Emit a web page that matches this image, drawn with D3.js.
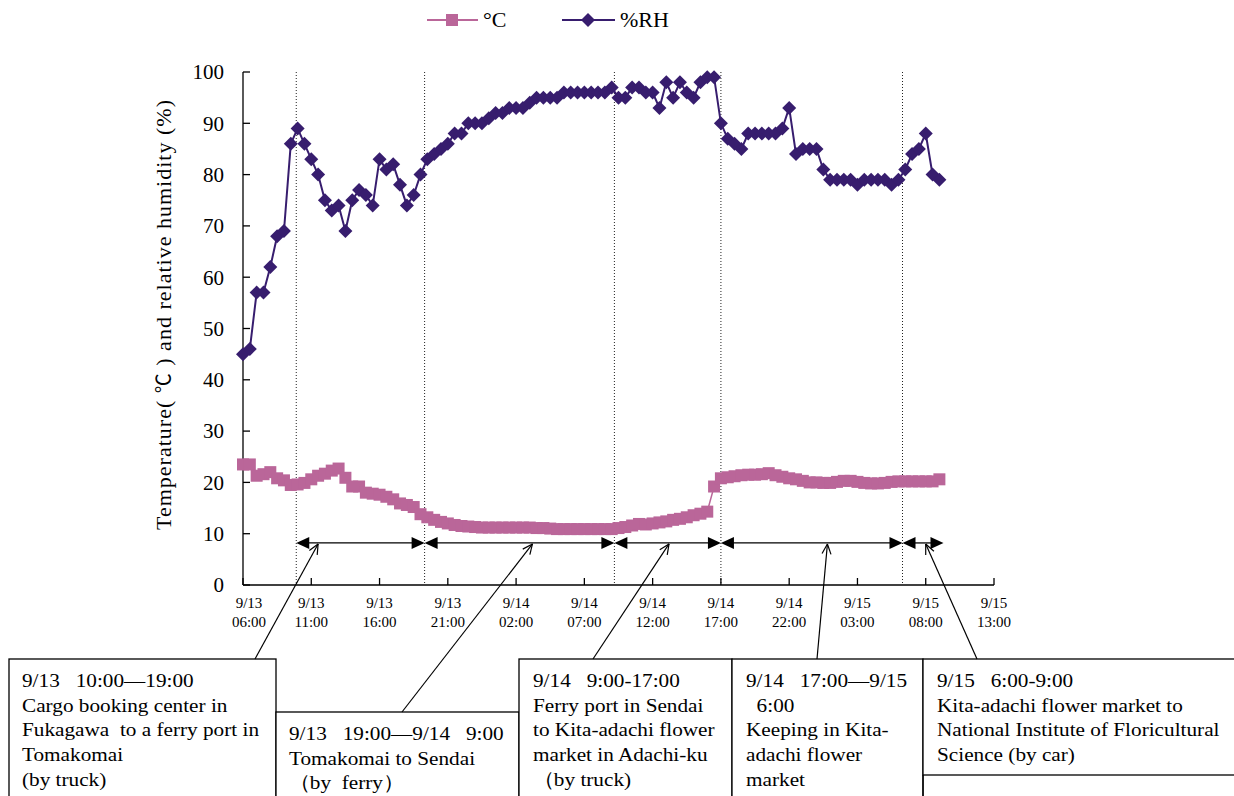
<!DOCTYPE html>
<html><head><meta charset="utf-8">
<script src="https://cdn.jsdelivr.net/npm/d3@7"></script>
<style>
body{margin:0;background:#fff;}
svg{display:block;font-family:"Liberation Serif","Times New Roman",serif;}
text{white-space:pre;}
</style></head><body>
<svg id="c" width="1234" height="796"></svg>
<script>
// ---- data ----
const intervalHours = 0.5; // readings every 30 min from 9/13 06:00
const humidity = [
 45,46,57,57,62,68,69,86,89,86,
 83,80,75,73,74,69,75,77,76,74,
 83,81,82,78,74,76,80,83,84,85,
 86,88,88,90,90,90,91,92,92,93,
 93,93,94,95,95,95,95,96,96,96,
 96,96,96,96,97,95,95,97,97,96,
 96,93,98,95,98,96,95,98,99,99,
 90,87,86,85,88,88,88,88,88,89,
 93,84,85,85,85,81,79,79,79,79,
 78,79,79,79,79,78,79,81,84,85,
 88,80,79];
const temperature = [
 23.5,23.5,21.3,21.6,22.0,20.8,20.4,19.5,19.6,19.9,
 20.6,21.3,21.7,22.3,22.7,20.9,19.2,19.2,18.0,17.8,
 17.6,17.2,16.7,15.9,15.6,15.2,13.8,13.2,12.7,12.3,
 12.0,11.7,11.5,11.4,11.3,11.2,11.2,11.2,11.2,11.2,
 11.2,11.2,11.2,11.1,11.1,11.0,10.9,10.9,10.9,10.9,
 10.9,10.9,10.9,10.9,10.9,11.1,11.3,11.6,11.9,11.8,
 12.0,12.2,12.4,12.7,12.9,13.2,13.6,13.9,14.3,19.2,
 20.8,21.0,21.2,21.4,21.5,21.5,21.6,21.8,21.4,21.1,
 20.8,20.6,20.3,20.0,20.0,19.9,19.9,20.1,20.3,20.3,
 20.1,19.9,19.8,19.8,19.9,20.1,20.2,20.2,20.2,20.2,
 20.2,20.2,20.6];
const tickHours = [0,5,10,15,20,25,30,35,40,45,50,55];
const tickDates = ["9/13","9/13","9/13","9/13","9/14","9/14","9/14","9/14","9/14","9/15","9/15","9/15"];
const tickTimes = ["06:00","11:00","16:00","21:00","02:00","07:00","12:00","17:00","22:00","03:00","08:00","13:00"];
const yTicks = [0,10,20,30,40,50,60,70,80,90,100];
const phaseBreaks = [3.9, 13.3, 27.2, 35.0, 48.3]; // hours since 9/13 06:00
const phaseEnd = 51.3;
const arrowLevel = 8.2;
const pointerHours = [5.5, 21.2, 31.2, 42.8, 50.0];
const seriesNames = ["\u00B0C", "%RH"];
const boxTexts = [
 ["9/13   10:00\u201419:00","Cargo booking center in","Fukagawa  to a ferry port in","Tomakomai","(by truck)"],
 ["9/13   19:00\u20149/14   9:00","Tomakomai to Sendai","\uFF08by  ferry\uFF09"],
 ["9/14   9:00-17:00","Ferry port in Sendai","to Kita-adachi flower","market in Adachi-ku","\uFF08by truck)"],
 ["9/14   17:00\u20149/15","  6:00","Keeping in Kita-","adachi flower","market"],
 ["9/15   6:00-9:00","Kita-adachi flower market to","National Institute of Floricultural","Science (by car)"]
];

// ---- layout ----
const L = {x0:243, x1:994, yTop:72, yBot:585};
const boxes = [
 {x:9, y:659, w:267, h:150, px:22},
 {x:276, y:712, w:243, h:100, px:289},
 {x:519, y:659, w:213, h:150, px:533},
 {x:732, y:659, w:191, h:150, px:746},
 {x:923, y:659, w:330, h:116, px:937}
];
const pointerBottoms = [[255,659],[402,712],[593,659],[817,659],[977,659]];
const cT = "#BA6699", cH = "#371D6E";

const svg = d3.select("#c");
const x = d3.scaleLinear().domain([0,55]).range([L.x0,L.x1]);
const y = d3.scaleLinear().domain([0,100]).range([L.yBot,L.yTop]);
const tH = humidity.map((v,i)=>i*intervalHours);

// dotted phase lines
svg.append("g").selectAll("line").data(phaseBreaks).join("line")
 .attr("x1",d=>x(d)).attr("x2",d=>x(d)).attr("y1",y(100)).attr("y2",y(0))
 .attr("stroke","#222").attr("stroke-width",1).attr("stroke-dasharray","1,2");

// axes
const ax = svg.append("g");
ax.append("line").attr("x1",L.x0).attr("x2",L.x0).attr("y1",y(100)).attr("y2",y(0)).attr("stroke","#000").attr("stroke-width",1.3);
ax.append("line").attr("x1",L.x0).attr("x2",L.x1).attr("y1",y(0)).attr("y2",y(0)).attr("stroke","#000").attr("stroke-width",1.3);
ax.selectAll(".yt").data(yTicks).join("line").attr("x1",L.x0).attr("x2",L.x0+7).attr("y1",d=>y(d)).attr("y2",d=>y(d)).attr("stroke","#000").attr("stroke-width",1.3);
ax.selectAll(".yl").data(yTicks).join("text").attr("x",224).attr("y",d=>y(d)).attr("dy","0.35em")
 .attr("text-anchor","end").attr("font-size",21).text(d=>d);
ax.selectAll(".xt").data(tickHours).join("line").attr("x1",d=>x(d)).attr("x2",d=>x(d)).attr("y1",y(0)).attr("y2",y(0)-7).attr("stroke","#000").attr("stroke-width",1.3);
const xl = ax.selectAll(".xl").data(tickHours).join("text").attr("text-anchor","middle").attr("font-size",15);
xl.append("tspan").attr("x",(d,i)=>x(d)+(i===0?6:0)).attr("y",608).text((d,i)=>tickDates[i]);
xl.append("tspan").attr("x",(d,i)=>x(d)+(i===0?6:0)).attr("y",627).text((d,i)=>tickTimes[i]);

// y title
const yt = svg.append("text").attr("transform","translate(171,315) rotate(-90)").attr("text-anchor","middle")
 .attr("font-size",22).attr("textLength",430).attr("lengthAdjust","spacing");
yt.append("tspan").text("Temperature( ");
yt.append("tspan").attr("font-family","'Noto Sans CJK JP'").attr("font-size",20).text("\u2103");
yt.append("tspan").text(" ) and relative humidity (%)");

// temperature series
const line = d3.line().x((d,i)=>x(tH[i])).y(d=>y(d));
svg.append("path").datum(temperature).attr("d",line).attr("fill","none").attr("stroke",cT).attr("stroke-width",1.5);
svg.append("g").selectAll("rect").data(temperature).join("rect")
 .attr("x",(d,i)=>x(tH[i])-6).attr("y",d=>y(d)-6).attr("width",12).attr("height",12).attr("fill",cT);
// humidity series
svg.append("path").datum(humidity).attr("d",line).attr("fill","none").attr("stroke",cH).attr("stroke-width",2);
svg.append("g").selectAll("path").data(humidity).join("path")
 .attr("d","M0,-7L7,0L0,7L-7,0Z")
 .attr("transform",(d,i)=>`translate(${x(tH[i])},${y(d)})`).attr("fill",cH);

// legend
const lg = svg.append("g");
const ly = 20;
lg.append("line").attr("x1",427).attr("x2",478).attr("y1",ly).attr("y2",ly).attr("stroke",cT).attr("stroke-width",2);
lg.append("rect").attr("x",446).attr("y",ly-6).attr("width",12).attr("height",12).attr("fill",cT);
lg.append("text").attr("x",483).attr("y",ly+7).attr("font-size",22).text(seriesNames[0]);
lg.append("line").attr("x1",562).attr("x2",615).attr("y1",ly).attr("y2",ly).attr("stroke",cH).attr("stroke-width",2);
lg.append("path").attr("d","M0,-7L7,0L0,7L-7,0Z").attr("transform",`translate(588,${ly})`).attr("fill",cH);
lg.append("text").attr("x",620).attr("y",ly+7).attr("font-size",22).text(seriesNames[1]);

// phase double arrows
const segs = phaseBreaks.map((b,i)=>[b, i<phaseBreaks.length-1?phaseBreaks[i+1]:phaseEnd]);
const ar = svg.append("g");
const ay = y(arrowLevel);
segs.forEach(([a,b])=>{
  const xa=x(a), xb=x(b);
  ar.append("line").attr("x1",xa+6).attr("x2",xb-6).attr("y1",ay).attr("y2",ay).attr("stroke","#000").attr("stroke-width",1.3);
  ar.append("path").attr("d",`M${xa},${ay}L${xa+13},${ay-6}L${xa+13},${ay+6}Z`).attr("fill","#000");
  ar.append("path").attr("d",`M${xb},${ay}L${xb-13},${ay-6}L${xb-13},${ay+6}Z`).attr("fill","#000");
});

// boxes
const bx = svg.append("g");
boxes.forEach((b,i)=>{
  bx.append("rect").attr("x",b.x).attr("y",b.y).attr("width",b.w).attr("height",b.h)
    .attr("fill","#fff").attr("stroke","#000").attr("stroke-width",1.3);
});
bx.append("line").attr("x1",923).attr("x2",923).attr("y1",775).attr("y2",796).attr("stroke","#000").attr("stroke-width",1.3);
boxes.forEach((b,i)=>{
  const t = bx.append("text").attr("font-size",19.5).attr("transform",`translate(${b.px},0) scale(1.09,1)`);
  boxTexts[i].forEach((s,j)=>{
    t.append("tspan").attr("x",0).attr("y",b.y+28+j*24.7).text(s);
  });
});

// pointer lines with open arrowheads
const pg = svg.append("g");
pointerHours.forEach((h,i)=>{
  const tx=x(h), ty=y(arrowLevel)+1, [bx0,by0]=pointerBottoms[i];
  pg.append("line").attr("x1",bx0).attr("y1",by0).attr("x2",tx).attr("y2",ty).attr("stroke","#000").attr("stroke-width",1.2);
  const ang=Math.atan2(by0-ty,bx0-tx), len=11, sp=0.42;
  [ang-sp, ang+sp].forEach(a=>{
    pg.append("line").attr("x1",tx).attr("y1",ty).attr("x2",tx+len*Math.cos(a)).attr("y2",ty+len*Math.sin(a))
      .attr("stroke","#000").attr("stroke-width",1.2);
  });
});
</script>
</body></html>
